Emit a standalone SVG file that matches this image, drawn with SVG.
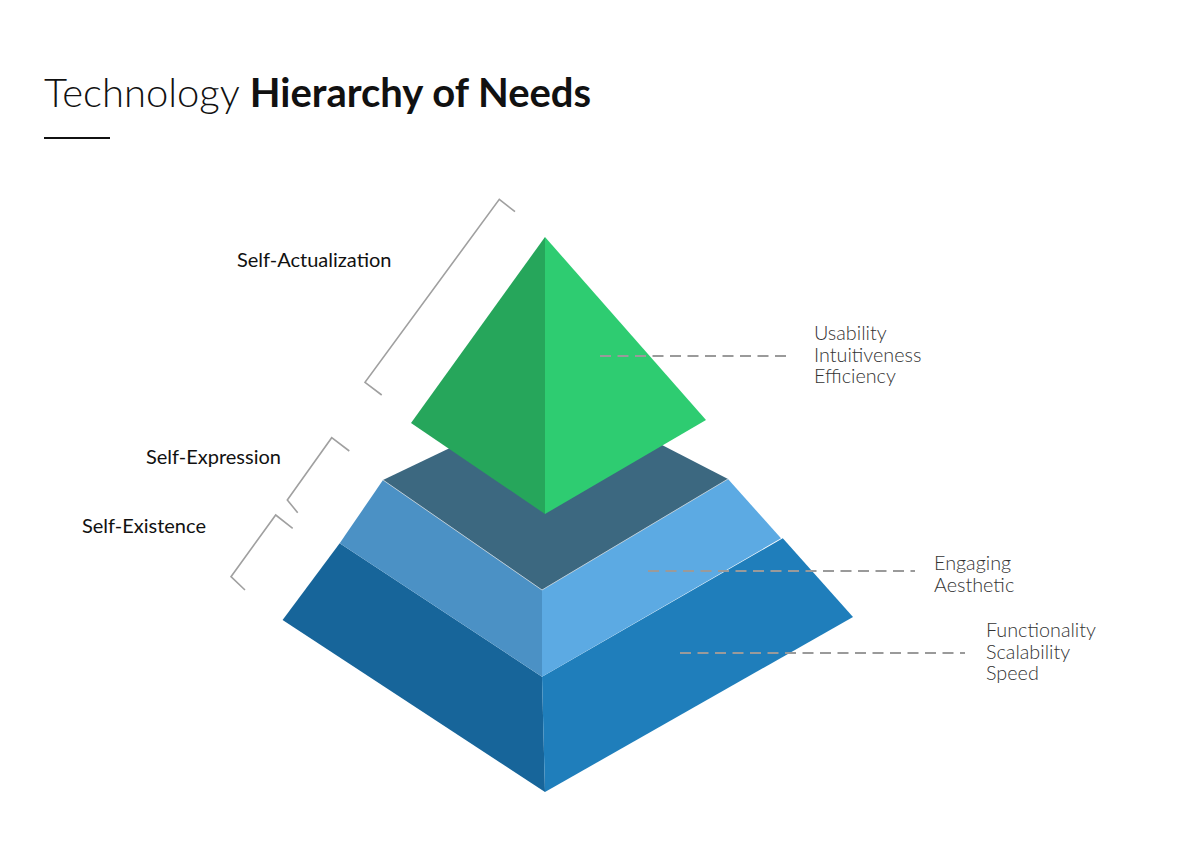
<svg xmlns="http://www.w3.org/2000/svg" width="1190" height="842" viewBox="0 0 1190 842">
<defs>
<style>
.lbl{font-family:Lato,"Liberation Sans",sans-serif;font-size:20px;fill:#111}
.rl{font-family:Lato,"Liberation Sans",sans-serif;font-weight:300;font-size:19.8px;fill:#333}
.br{fill:none;stroke:#a0a0a0;stroke-width:1.6}
.dash{fill:none;stroke:#9a9a9a;stroke-width:2;stroke-dasharray:11 6.5}
</style>
</defs>
<rect width="1190" height="842" fill="#fff"/>
<g id="title">
<text x="44" y="107" font-family="Lato,'Liberation Sans',sans-serif" font-size="40" fill="#111"><tspan font-weight="300">Technology </tspan><tspan font-weight="700">Hierarchy of Needs</tspan></text>
<line x1="44" y1="138" x2="110" y2="138" stroke="#111" stroke-width="2"/>
</g>
<g id="layer-bottom">
<polygon points="282.6,620 339.7,543.3 542,676.7 545,792" fill="#17659a"/>
<polygon points="542,676.7 782.8,538.3 853,617 545,792" fill="#1f7ebb"/>
</g>
<g id="layer-middle">
<polygon points="339.7,543.3 383,480 542,590 542,676.7" fill="#4b91c5"/>
<polygon points="542,590 728,479 781,538.3 542,676.7" fill="#5caae3"/>
<polygon points="383,480 563,394 728,479 542,590" fill="#3c6880"/>
<polyline points="383,480 542,590 728,479" fill="none" stroke="#c9d7e0" stroke-width="0.8"/>
</g>
<g id="layer-top">
<polygon points="545,237 411,423 545,514" fill="#26a65b"/>
<polygon points="545,237 545,514 706,420" fill="#2ecc71"/>
</g>
<g id="connectors">
<polyline class="br" points="515,211.7 499.3,199.3 365,382.3 381.7,395"/>
<polyline class="br" points="349.3,451 331.7,437.7 287.3,500 297.7,512.7"/>
<polyline class="br" points="292.7,528.3 275.7,515 231,576.7 245,590"/>
<line class="dash" x1="600" y1="356" x2="792" y2="356"/>
<line class="dash" x1="648" y1="571" x2="915" y2="571"/>
<line class="dash" x1="680" y1="653" x2="965" y2="653"/>
</g>
<g id="label-self-actualization"><text class="lbl" x="237" y="267">Self-Actualization</text></g>
<g id="label-self-expression"><text class="lbl" x="146" y="464">Self-Expression</text></g>
<g id="label-self-existence"><text class="lbl" x="82" y="533">Self-Existence</text></g>
<g id="label-top-needs">
<text class="rl" x="814" y="340">Usability</text>
<text class="rl" x="814" y="362">Intuitiveness</text>
<text class="rl" x="814" y="383">Efficiency</text>
</g>
<g id="label-middle-needs">
<text class="rl" x="934" y="570">Engaging</text>
<text class="rl" x="934" y="592">Aesthetic</text>
</g>
<g id="label-bottom-needs">
<text class="rl" x="986" y="637">Functionality</text>
<text class="rl" x="986" y="659">Scalability</text>
<text class="rl" x="986" y="680">Speed</text>
</g>
</svg>
